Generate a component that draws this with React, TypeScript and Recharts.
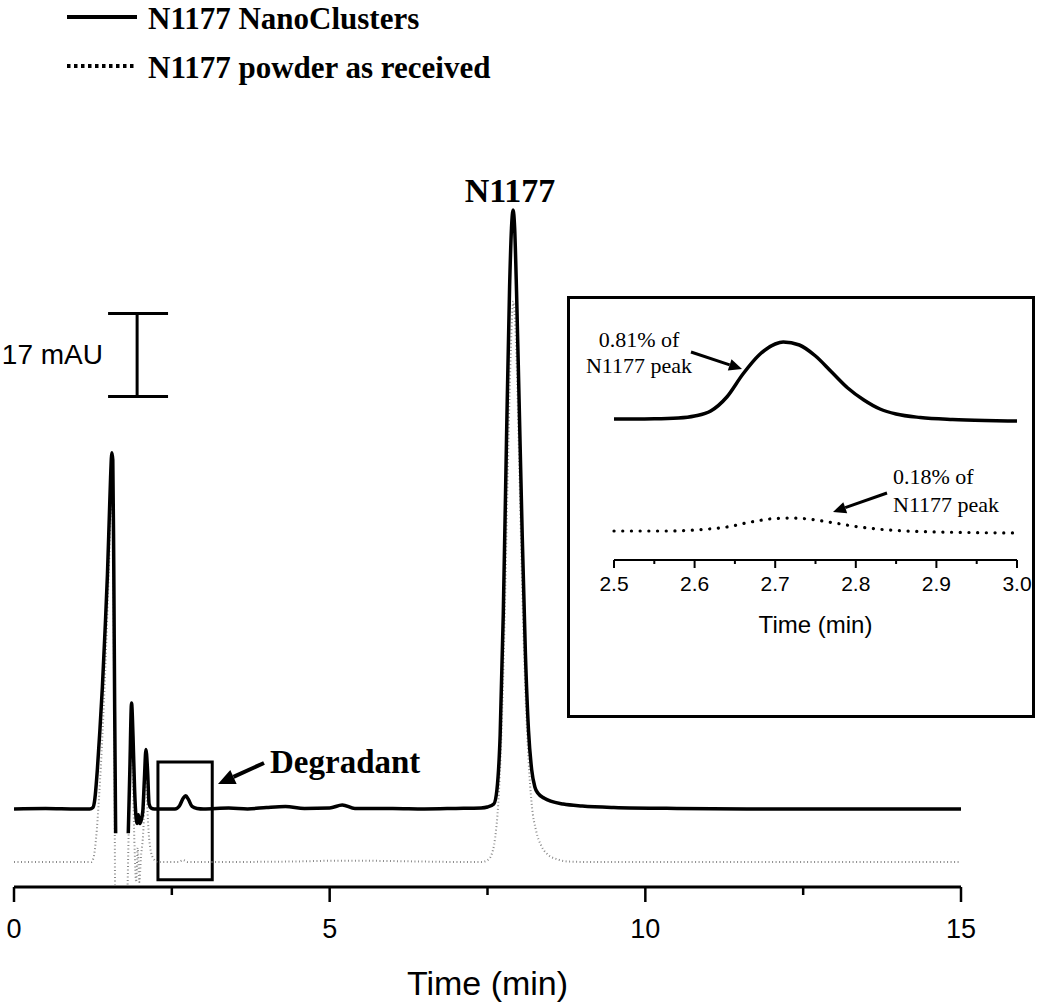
import React from 'react'
import {
  LineChart, Line, XAxis, YAxis, ReferenceArea, ReferenceLine,
} from 'recharts'

// main chromatogram, time (min) vs absorbance (mAU)
const solidTime = [
  0, 0.5, 1.0, 1.2, 1.25, 1.28, 1.32, 1.36, 1.40, 1.44, 1.48, 1.51, 1.53, 1.55, 1.565, 1.58, 1.595, 1.61,
  1.70, 1.81, 1.835, 1.862, 1.885, 1.91, 1.935, 1.95, 1.97, 1.99, 2.01, 2.04, 2.065, 2.09, 2.115, 2.14, 2.17, 2.22,
  2.40, 2.55, 2.62, 2.68, 2.72, 2.76, 2.82, 2.90, 3.00, 3.4, 3.7, 4.0, 4.3, 4.6, 5.0, 5.2, 5.4, 6.0, 6.5, 7.0,
  7.40, 7.50, 7.60, 7.65, 7.70, 7.75, 7.80, 7.85, 7.88, 7.905, 7.93, 7.96, 8.00, 8.05, 8.10, 8.15, 8.20, 8.25,
  8.30, 8.40, 8.50, 8.70, 9.0, 9.5, 10.5, 12, 15,
]
const solidMau: (number | null)[] = [
  0, 0.1, 0, 0, 0.3, 2, 8, 16, 25, 36, 48, 60, 68, 73, 71.5, 50, 20, -5,
  null, -5, 8, 21.7, 15, 4, -2, -3, -1.2, -3, -2.5, -0.5, 6, 12.2, 8, 1, 0.2, 0,
  0, 0, 0.6, 2.2, 2.7, 2.0, 0.5, 0.1, 0, 0.2, 0, 0.3, 0.5, 0.1, 0.2, 0.8, 0.1, 0.1, 0, 0.1,
  0.2, 0.4, 1, 4, 15, 40, 75, 107, 119, 122.7, 119, 106, 84, 56, 32, 16, 8, 4.5,
  3.2, 2.2, 1.6, 1.0, 0.6, 0.3, 0.1, 0, 0,
]

const powderTime = [
  0, 1.0, 1.22, 1.26, 1.30, 1.35, 1.40, 1.45, 1.50, 1.54, 1.565, 1.585, 1.60,
  1.70, 1.80, 1.83, 1.855, 1.88, 1.91, 1.935, 1.96, 1.985, 2.01, 2.05, 2.08, 2.105, 2.14, 2.20, 2.28,
  2.6, 2.68, 2.75, 4.3, 5.2, 7.40, 7.50, 7.56, 7.62, 7.67, 7.72, 7.77, 7.82, 7.86, 7.91, 7.96,
  8.00, 8.05, 8.10, 8.15, 8.20, 8.27, 8.35, 8.45, 8.60, 8.80, 9.2, 15,
]
const powderMau: (number | null)[] = [
  -10.9, -10.9, -10.9, -10, -6, 3, 15, 30, 48, 62, 60, 25, -15.5,
  null, -15.5, 4, 19, 8, -8, -15, -8, -15, -10, -4, 8, 2, -6, -10, -10.9,
  -10.9, -10.5, -10.9, -10.8, -10.6, -10.9, -10.5, -9.5, -6, 1, 15, 38, 68, 90, 104, 92,
  72, 45, 24, 10, 1, -4.5, -7.5, -9.3, -10.3, -10.8, -10.9, -10.9,
]

// inset: degradant region 2.5 - 3.0 min
const insetTime = [2.50, 2.55, 2.58, 2.60, 2.62, 2.64, 2.66, 2.68, 2.70, 2.71, 2.73, 2.75, 2.77, 2.79, 2.81, 2.83, 2.85, 2.88, 2.92, 2.96, 3.00]
const insetSolid = [14.1, 14.12, 14.2, 14.4, 14.9, 16.3, 18.6, 20.5, 21.6, 21.8, 21.5, 20.4, 18.8, 17.2, 16.0, 15.1, 14.6, 14.25, 14.05, 13.95, 13.9]
const insetPowderTime = [2.50, 2.56, 2.60, 2.64, 2.67, 2.70, 2.72, 2.74, 2.77, 2.80, 2.84, 2.88, 2.94, 3.00]
const insetPowder = [2.9, 2.9, 3.0, 3.3, 3.8, 4.15, 4.2, 4.1, 3.75, 3.35, 3.0, 2.85, 2.75, 2.7]

const X_TICKS = [0, 2.5, 5, 7.5, 10, 12.5, 15]
const INSET_TICKS = [2.5, 2.55, 2.6, 2.65, 2.7, 2.75, 2.8, 2.85, 2.9, 2.95, 3.0]

const solidData = solidTime.map((t, i) => ({ t, v: solidMau[i] }))
const powderData = powderTime.map((t, i) => ({ t, v: powderMau[i] }))
const insetSolidData = insetTime.map((t, i) => ({ t, v: insetSolid[i] }))
const insetPowderData = insetPowderTime.map((t, i) => ({ t, v: insetPowder[i] }))

const SANS = '"Liberation Sans", Arial, sans-serif'
const SERIF = '"Liberation Serif", "Times New Roman", serif'

function MainTick({ x, y, payload }: any) {
  const major = payload.value % 5 === 0
  return (
    <g>
      <line x1={x} y1={y} x2={x} y2={y + (major ? 15 : 8)} stroke="#000" strokeWidth={2.5} />
      {major && (
        <text x={x} y={y + 51} textAnchor="middle" fontSize={27} fontFamily={SANS} fill="#000">
          {payload.value}
        </text>
      )}
    </g>
  )
}

function InsetTick({ x, y, payload }: any) {
  const major = Math.round(payload.value * 100) % 10 === 0
  return (
    <g>
      <line x1={x} y1={y} x2={x} y2={y + (major ? 8 : 4)} stroke="#000" strokeWidth={2} />
      {major && (
        <text x={x} y={y + 31} textAnchor="middle" fontSize={21} fontFamily={SANS} fill="#000">
          {payload.value.toFixed(1)}
        </text>
      )}
    </g>
  )
}

function Arrow({ x1, y1, x2, y2, w = 4, head = 16 }: any) {
  const a = Math.atan2(y2 - y1, x2 - x1)
  const bx = x2 - head * Math.cos(a)
  const by = y2 - head * Math.sin(a)
  const hw = head * 0.45
  const p1 = `${bx + hw * Math.sin(a)},${by - hw * Math.cos(a)}`
  const p2 = `${bx - hw * Math.sin(a)},${by + hw * Math.cos(a)}`
  return (
    <g>
      <line x1={x1} y1={y1} x2={bx} y2={by} stroke="#000" strokeWidth={w} />
      <polygon points={`${x2},${y2} ${p1} ${p2}`} fill="#000" />
    </g>
  )
}

export default function App() {
  return (
    <div style={{ position: 'relative', width: 1050, height: 1006, background: '#fff' }}>
      <style>{'body{margin:0}'}</style>

      <LineChart width={1050} height={1006} margin={{ top: 194, right: 89, bottom: 0, left: 14 }}>
        <XAxis
          type="number" dataKey="t" domain={[0, 15]} ticks={X_TICKS} height={119}
          axisLine={{ stroke: '#000', strokeWidth: 3 }} tickLine={false} tickSize={0} tickMargin={0}
          tick={<MainTick />} interval={0} allowDataOverflow
          label={{ value: 'Time (min)', position: 'insideTop', offset: 84, fontSize: 34, fontFamily: SANS, fill: '#000' }}
        />
        <YAxis hide width={0} type="number" domain={[-16, 126]} allowDataOverflow />
        <ReferenceArea x1={2.28} x2={3.14} y1={-14.5} y2={9.6} fill="none" fillOpacity={0}
          stroke="#000" strokeWidth={3} ifOverflow="visible" />
        <ReferenceLine segment={[{ x: 1.95, y: 84.5 }, { x: 1.95, y: 101.5 }]} stroke="#000" strokeWidth={3} ifOverflow="visible" />
        <ReferenceLine segment={[{ x: 1.49, y: 84.5 }, { x: 2.44, y: 84.5 }]} stroke="#000" strokeWidth={3} ifOverflow="visible" />
        <ReferenceLine segment={[{ x: 1.49, y: 101.5 }, { x: 2.44, y: 101.5 }]} stroke="#000" strokeWidth={3} ifOverflow="visible" />
        <Line data={powderData} dataKey="v" type="monotone" stroke="#8a8a8a" strokeWidth={2}
          strokeDasharray="1 2.5" dot={false} connectNulls={false} isAnimationActive={false} />
        <Line data={solidData} dataKey="v" type="monotone" stroke="#000" strokeWidth={3.5}
          dot={false} connectNulls={false} isAnimationActive={false} />
      </LineChart>

      <div style={{
        position: 'absolute', left: 567, top: 296, width: 468, height: 422,
        border: '3px solid #000', boxSizing: 'border-box', background: '#fff',
      }}>
        <LineChart width={468} height={416} margin={{ top: 11, right: 21, bottom: 0, left: 44 }}>
          <XAxis
            type="number" dataKey="t" domain={[2.5, 3.0]} ticks={INSET_TICKS} height={155}
            axisLine={{ stroke: '#000', strokeWidth: 2 }} tickLine={false} tickSize={0} tickMargin={0}
            tick={<InsetTick />} interval={0}
            label={{ value: 'Time (min)', position: 'insideTop', offset: 56, fontSize: 24, fontFamily: SANS, fill: '#000' }}
          />
          <YAxis hide width={0} type="number" domain={[0, 25]} />
          <Line data={insetPowderData} dataKey="v" type="monotone" stroke="#000" strokeWidth={3.2}
            strokeDasharray="0.1 8.6" strokeLinecap="round" dot={false} isAnimationActive={false} />
          <Line data={insetSolidData} dataKey="v" type="monotone" stroke="#000" strokeWidth={3.5}
            dot={false} isAnimationActive={false} />
        </LineChart>
      </div>

      {/* legend and annotations */}
      <svg width={1050} height={1006} style={{ position: 'absolute', left: 0, top: 0, pointerEvents: 'none' }}>
        <line x1={67} y1={17} x2={137} y2={17} stroke="#000" strokeWidth={4} />
        <text x={148} y={29} fontSize={31} fontWeight="bold" fontFamily={SERIF}>N1177 NanoClusters</text>
        <line x1={67} y1={66} x2={137} y2={66} stroke="#000" strokeWidth={4} strokeDasharray="3.5 3.5" />
        <text x={148} y={78} fontSize={31} fontWeight="bold" fontFamily={SERIF}>N1177 powder as received</text>

        <text x={510} y={202} textAnchor="middle" fontSize={34} fontWeight="bold" fontFamily={SERIF}>N1177</text>
        <text x={270} y={773} fontSize={33} fontWeight="bold" fontFamily={SERIF}>Degradant</text>
        <Arrow x1={264} y1={763} x2={218} y2={784} w={4} head={17} />

        <text x={103} y={364} textAnchor="end" fontSize={28} fontFamily={SANS}>17 mAU</text>

        <text x={639} y={347} textAnchor="middle" fontSize={22} fontFamily={SERIF}>0.81% of</text>
        <text x={639} y={373} textAnchor="middle" fontSize={22} fontFamily={SERIF}>N1177 peak</text>
        <Arrow x1={691} y1={352} x2={742} y2={369} w={3} head={13} />

        <text x={893} y={484} fontSize={22} fontFamily={SERIF}>0.18% of</text>
        <text x={893} y={512} fontSize={22} fontFamily={SERIF}>N1177 peak</text>
        <Arrow x1={887} y1={493} x2={833} y2={512} w={3} head={13} />
      </svg>
    </div>
  )
}
